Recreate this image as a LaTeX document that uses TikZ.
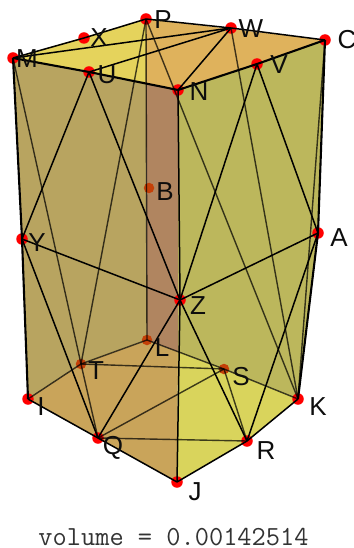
\documentclass[tikz,border=0pt]{standalone}
\usepackage{fontspec}
\setmainfont{Liberation Sans}
\definecolor{topyel}{RGB}{229,211,92}
\definecolor{toporg}{RGB}{223,178,92}
\definecolor{lefttan}{RGB}{184,164,96}
\definecolor{midbrn}{RGB}{176,133,96}
\definecolor{rightol}{RGB}{188,183,92}
\definecolor{botorg}{RGB}{201,164,90}
\definecolor{botyel}{RGB}{217,212,92}
\definecolor{hiddot}{RGB}{196,64,8}
\definecolor{vpt}{RGB}{255,0,0}
\tikzset{
  dot/.style={circle,fill=vpt,inner sep=0pt,minimum size=11.5bp},
  hdot/.style={circle,fill=hiddot,inner sep=0pt,minimum size=10.5bp},
  lab/.style={font=\fontsize{26bp}{26bp}\selectfont,text=black!95,inner sep=0pt},
  front/.style={draw=black,line width=1.5bp},
  rim/.style={draw=black,line width=2.1bp},
  hidden/.style={draw=black,draw opacity=0.72,line width=1.4bp},
}
\begin{document}
\begin{tikzpicture}[x=1bp,y=-1bp]
\useasboundingbox (0,0) rectangle (353,548);
\coordinate (ml) at (146,84);
\coordinate (lm) at (178,352);
% faces
\fill[topyel] (13,58)--(146,19)--(ml)--cycle;
\fill[toporg] (146,19)--(325,40)--(178,90)--(ml)--cycle;
\fill[lefttan] (13,58)--(ml)--(147,340)--(81,364)--(28,399)--(22,239)--cycle;
\fill[midbrn] (ml)--(178,90)--(lm)--(147,340)--cycle;
\fill[rightol] (178,90)--(325,40)--(318,233)--(298,399)--(224,369)--(lm)--cycle;
\fill[botorg] (28,399)--(81,364)--(147,340)--(lm)--(177,482)--cycle;
\fill[botyel] (lm)--(224,369)--(298,399)--(247,441)--(177,482)--cycle;
% points
\node[dot] (M) at (13,58) {};
\node[dot] (X) at (84,38) {};
\node[dot] (P) at (146,19) {};
\node[dot] (W) at (231,28) {};
\node[dot] (C) at (325,40) {};
\node[dot] (U) at (89,72) {};
\node[dot] (N) at (178,90) {};
\node[dot] (V) at (257,64) {};
\node[hdot] (B) at (149,188) {};
\node[dot] (Y) at (22,239) {};
\node[dot] (A) at (318,233) {};
\node[dot] (Z) at (180,300) {};
\node[hdot] (L) at (147,340) {};
\node[hdot] (T) at (81,364) {};
\node[hdot] (S) at (224,369) {};
\node[dot] (I) at (28,399) {};
\node[dot] (K) at (298,399) {};
\node[dot] (Q) at (98,438) {};
\node[dot] (R) at (247,441) {};
\node[dot] (J) at (177,482) {};
% hidden edges
\foreach \a/\b in {P/L,P/T,P/K,W/K,C/K,M/T,T/Q,I/T,T/L,L/S,S/K,T/S,Q/S,Q/R,S/R}
  \draw[hidden] (\a.center) -- (\b.center);
% front edges
\foreach \a/\b in {M/X,X/P,P/W,W/C,M/W,U/W,N/W,U/Y,U/Z,V/Z,V/A,Y/Z,A/Z,Y/Q,Z/Q,Z/R,A/R,N/Z,Z/J,I/Q,Q/J,J/R,R/K}
  \draw[front] (\a.center) -- (\b.center);
\foreach \a/\b in {M/U,U/N,N/V,V/C,M/Y,Y/I,C/A,A/K}
  \draw[rim] (\a.center) -- (\b.center);
% labels
\node[lab] (lM) at (27,59) {M};
\node[lab] (lX) at (99,38) {X};
\node[lab] (lP) at (163,20) {P};
\node[lab] (lW) at (251,29) {W};
\node[lab] (lC) at (347,40) {C};
\node[lab] (lU) at (107,75) {U};
\node[lab] (lN) at (199,92) {N};
\node[lab] (lV) at (279,65) {V};
\node[lab] (lB) at (165,192) {B};
\node[lab] (lY) at (37,243) {Y};
\node[lab] (lA) at (339,238) {A};
\node[lab] (lZ) at (198,306) {Z};
\node[lab] (lL) at (162,348) {L};
\node[lab] (lT) at (96,371) {T};
\node[lab] (lS) at (241,377) {S};
\node[lab] (lI) at (41,407) {I};
\node[lab] (lK) at (318,407) {K};
\node[lab] (lQ) at (113,448) {Q};
\node[lab] (lR) at (266,451) {R};
\node[lab] (lJ) at (195,492) {J};
\node[inner sep=0pt,text=black!80,font=\ttfamily\fontsize{27.6bp}{27.6bp}\selectfont] (vol) at (173.5,537) {volume = 0.00142514};
\end{tikzpicture}
\end{document}
